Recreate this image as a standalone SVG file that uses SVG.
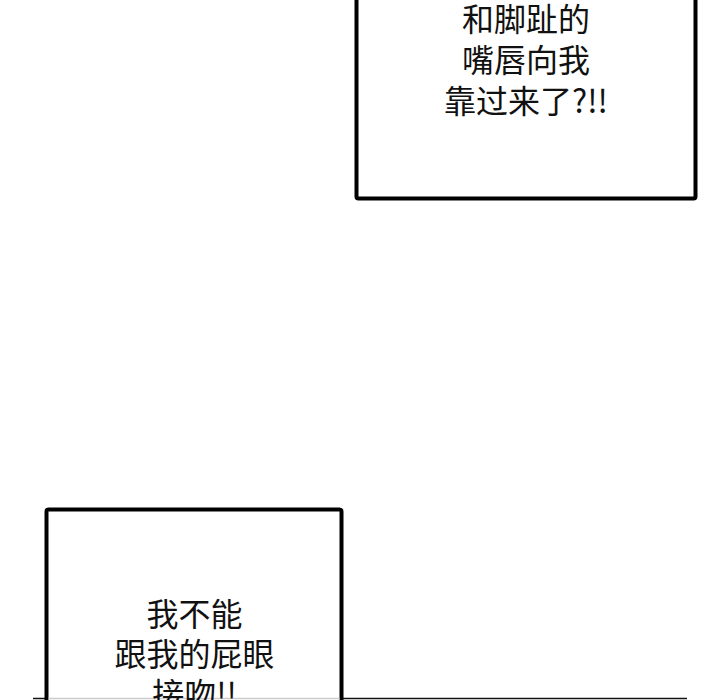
<svg xmlns="http://www.w3.org/2000/svg" width="720" height="700" viewBox="0 0 720 700">
<style>
.box{fill:#fff;stroke:#000;stroke-width:4;stroke-linejoin:round}
.t{font-family:"Noto Sans CJK SC","Noto Sans",sans-serif;font-size:32px;fill:#111;text-anchor:middle}
</style>
<rect width="720" height="700" fill="#fff"/>
<g id="baseline">
<line x1="33" y1="698.5" x2="687" y2="698.5" stroke="#111" stroke-width="1.6"/>
</g>
<g id="box-top">
<rect class="box" x="356.5" y="-10" width="339" height="208.5" rx="2"/>
<text class="t" x="526" y="31">和脚趾的</text>
<text class="t" x="526" y="72">嘴唇向我</text>
<text class="t" x="526" y="113">靠过来了?!!</text>
</g>
<g id="box-bottom">
<rect class="box" x="46.5" y="509.5" width="295" height="220" rx="2"/>
<line x1="48.5" y1="698.5" x2="339.5" y2="698.5" stroke="#ccc" stroke-width="1.6"/>
<text class="t" x="194.5" y="626">我不能</text>
<text class="t" x="194.5" y="666">跟我的屁眼</text>
<text class="t" x="194.5" y="706">接吻!!</text>
</g>
<g id="connectors"></g>
</svg>
